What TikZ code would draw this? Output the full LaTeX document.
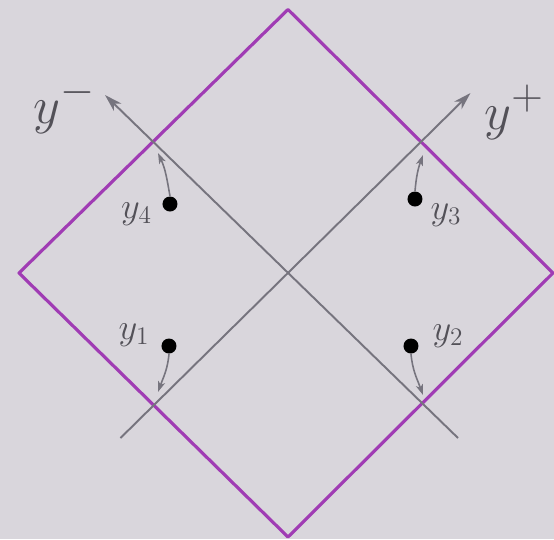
\documentclass[tikz,border=0pt]{standalone}
\usepackage{amsmath}
\usepackage{graphicx}
\usepackage{tikz}
\usetikzlibrary{arrows.meta,positioning}
\definecolor{bgpaper}{RGB}{217,214,220}
\definecolor{rhpurple}{RGB}{160,60,180}
\definecolor{axgray}{RGB}{118,116,126}
\newcommand{\biglab}[1]{\scalebox{1.2}{\Huge$#1$}}

\begin{document}
\begin{tikzpicture}[
  axis/.style={-{Stealth[length=10pt,width=6pt,inset=3pt]}, line width=1.1pt, axgray},
  flow/.style={-{Stealth[length=6pt,width=4pt,inset=1.5pt]}, line width=0.9pt, axgray},
  pt/.style={circle, fill=black, inner sep=0pt, minimum size=0.3cm},
  ptlabel/.style={inner sep=0pt, font=\fontsize{20}{24}\selectfont, text=axgray!70!black},
  axlabel/.style={inner sep=0pt, text=axgray!70!black}
]
% paper
\fill[bgpaper] (-5.76,-5.32) rectangle (5.32,5.46);
\useasboundingbox (-5.76,-5.32) rectangle (5.32,5.46);
% square turned by 45 degrees
\draw[rhpurple, line width=1.8pt, line join=round] (0,5.27) -- (5.3,0) -- (0,-5.28) -- (-5.38,0) -- cycle;
% axes
\coordinate (yp0) at (-3.35,-3.3);
\coordinate (yp1) at (3.65,3.6);
\coordinate (ym0) at (3.4,-3.3);
\coordinate (ym1) at (-3.66,3.56);
\draw[axis] (yp0) -- (yp1);
\draw[axis] (ym0) -- (ym1);
\node[axlabel, anchor=base west] (lp) at (3.92,2.88) {\biglab{y^+}};
\node[axlabel, anchor=base west] (lm) at (-5.1,3.0) {\biglab{y^-}};
% points
\node[pt] (d1) at (-2.38,-1.46) {};
\node[pt] (d2) at (2.46,-1.46) {};
\node[pt] (d3) at (2.54,1.48) {};
\node[pt] (d4) at (-2.36,1.38) {};
\node[ptlabel, left=0.23cm of d1, yshift=0.22cm] (l1) {$y_1$};
\node[ptlabel, right=0.27cm of d2, yshift=0.2cm] (l2) {$y_2$};
\node[ptlabel, right=0.15cm of d3, yshift=-0.32cm] (l3) {$y_3$};
\node[ptlabel, left=0.2cm of d4, yshift=-0.2cm] (l4) {$y_4$};
% where each point is pushed to
\coordinate (e1) at (-2.6,-2.38);
\coordinate (e2) at (2.7,-2.44);
\coordinate (e3) at (2.7,2.36);
\coordinate (e4) at (-2.6,2.4);
\draw[flow] (d1.south) to[out=-95,in=70] (e1);
\draw[flow] (d2.south) to[out=-85,in=110] (e2);
\draw[flow] (d3.north) to[out=85,in=-110] (e3);
\draw[flow] (d4.north) to[out=100,in=-65] (e4);
\end{tikzpicture}
\end{document}
